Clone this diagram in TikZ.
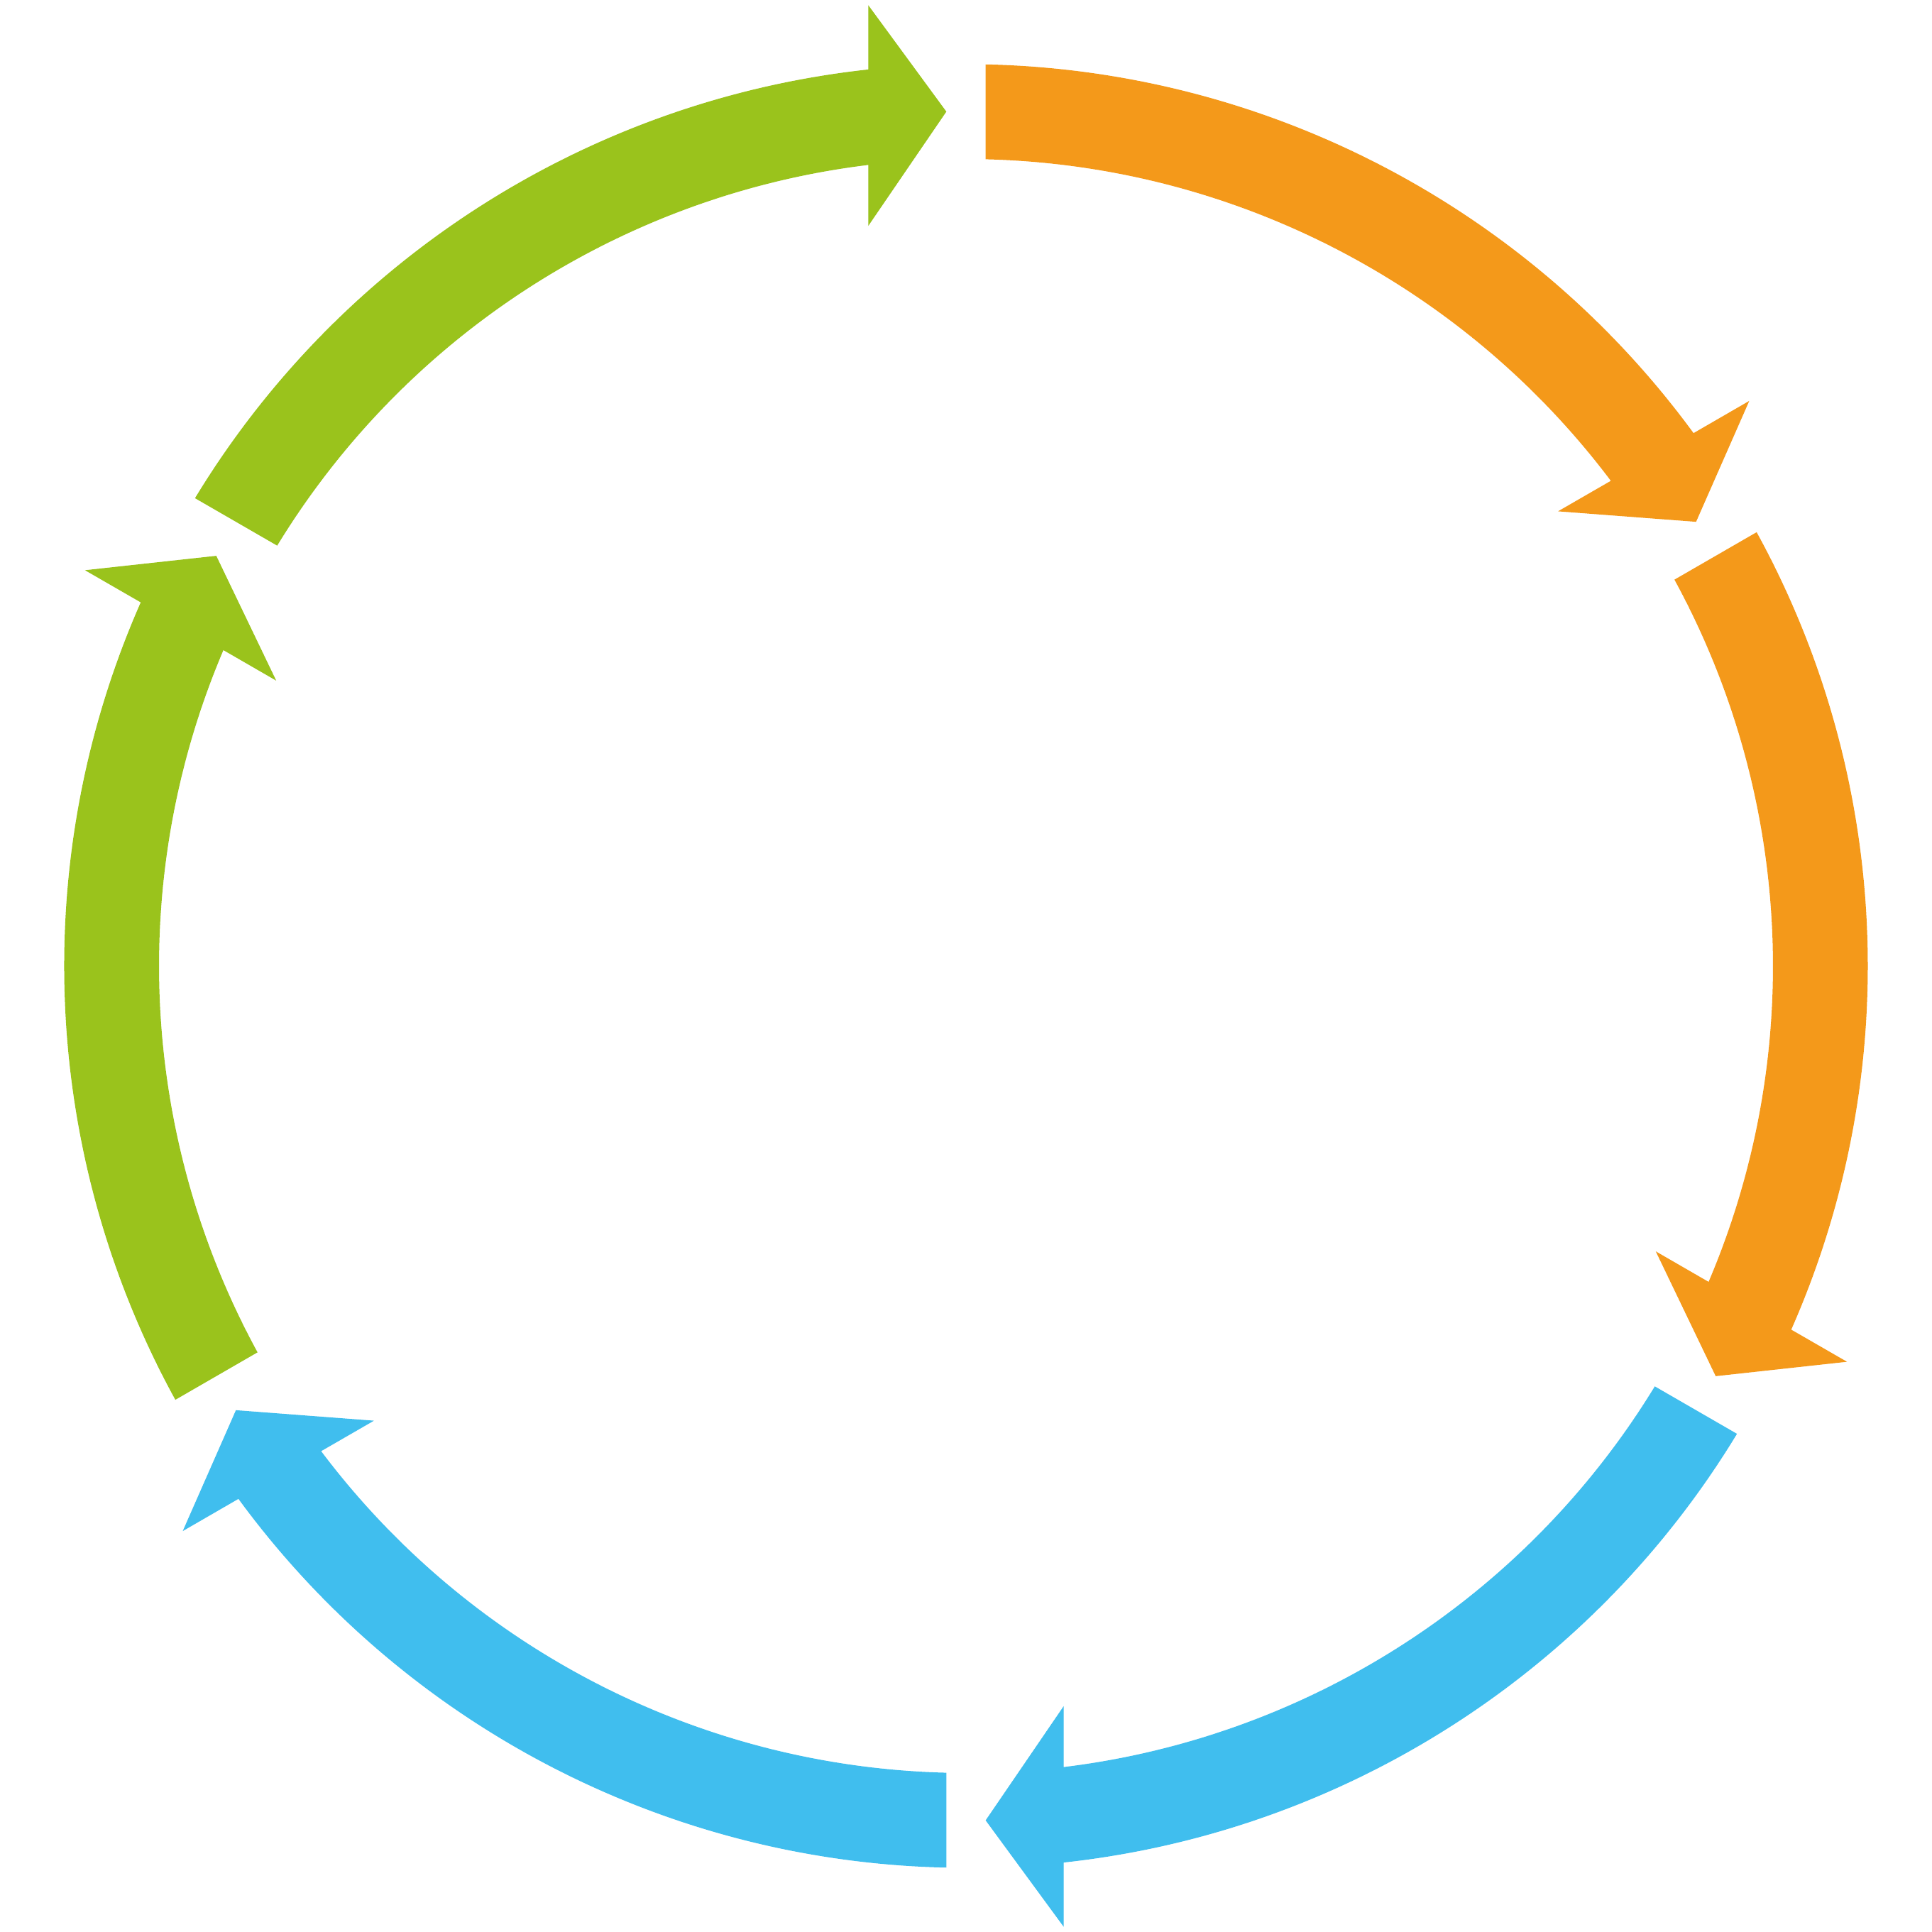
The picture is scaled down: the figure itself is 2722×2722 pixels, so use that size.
\documentclass[tikz,border=0pt]{standalone}
\definecolor{cgreen}{HTML}{9AC31C}
\definecolor{corange}{HTML}{F4991A}
\definecolor{cblue}{HTML}{40BEEE}
\tikzset{cyclearrow/.style={fill=#1, draw=none}}
\begin{document}
\begin{tikzpicture}[x=0.1mm,y=0.1mm]
\fill[white] (-1361,-1361) rectangle (1361,1361);
\useasboundingbox (-1361,-1361) rectangle (1361,1361);
\foreach \r/\c in {0/cgreen,60/cgreen,120/cblue,180/cblue,240/corange,300/corange}{
  \begin{scope}[rotate=\r]
    \path[cyclearrow=\c] (148.751:1270.6) arc[start angle=148.751,end angle=96.22,radius=1270.6]
      -- (-137.7,1353.7) -- (-27.7,1203.7) -- (-137.7,1042.7)
      -- (96.956:1137) arc[start angle=96.956,end angle=148.604,radius=1137] -- cycle;
  \end{scope}
}
\end{tikzpicture}
\end{document}
